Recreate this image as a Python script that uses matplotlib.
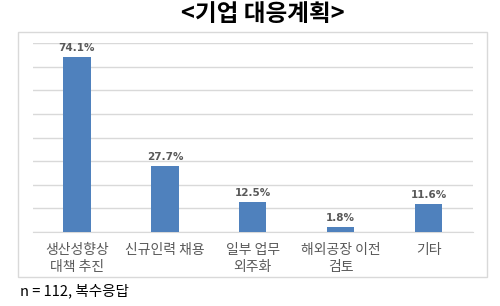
import matplotlib
matplotlib.use("Agg")
import matplotlib.pyplot as plt
from matplotlib.patches import Rectangle

plt.rcParams['font.family'] = ['Noto Sans CJK KR', 'DejaVu Sans']

# 데이터
categories = ['생산성향상\n대책 추진', '신규인력 채용', '일부 업무\n외주화', '해외공장 이전\n검토', '기타']
values = [74.1, 27.7, 12.5, 1.8, 11.6]
value_labels = ['74.1%', '27.7%', '12.5%', '1.8%', '11.6%']

fig = plt.figure(figsize=(5.0, 3.06), dpi=100)

# 차트 테두리
fig.patches.append(Rectangle((0.0366, 0.0958), 0.9374, 0.7986, transform=fig.transFigure,
                             fill=False, edgecolor='#D9D9D9', linewidth=1.0))

ax = fig.add_axes([0.066, 0.2428, 0.8794, 0.6157])
x = range(len(categories))
ax.bar(x, values, width=0.31, color='#4F81BD', zorder=3)

ax.set_ylim(0, 80)
ax.set_yticks(range(0, 81, 10))
ax.set_xlim(-0.5, len(categories) - 0.5)
ax.yaxis.grid(True, color='#D9D9D9', linewidth=1.0, zorder=0)
ax.tick_params(axis='y', left=False, labelleft=False)
ax.tick_params(axis='x', length=0, pad=8)
for s in ['top', 'right', 'left']:
    ax.spines[s].set_visible(False)
ax.spines['bottom'].set_color('#D9D9D9')

ax.set_xticks(list(x))
ax.set_xticklabels(categories, fontsize=10, color='#595959', linespacing=1.25)

for xi, v, lab in zip(x, values, value_labels):
    ax.annotate(lab, (xi, v), xytext=(0, 3), textcoords='offset points',
                ha='center', va='bottom', fontsize=7.5, fontweight='bold', color='#595959',
                family=['DejaVu Sans'])

fig.text(0.526, 0.954, '<기업 대응계획>', ha='center', va='center',
         fontsize=17, fontweight='bold', color='black')
fig.text(0.04, 0.049, 'n = 112, 복수응답', ha='left', va='center', fontsize=10.5, color='black')

fig.savefig('out.png', dpi=100)
